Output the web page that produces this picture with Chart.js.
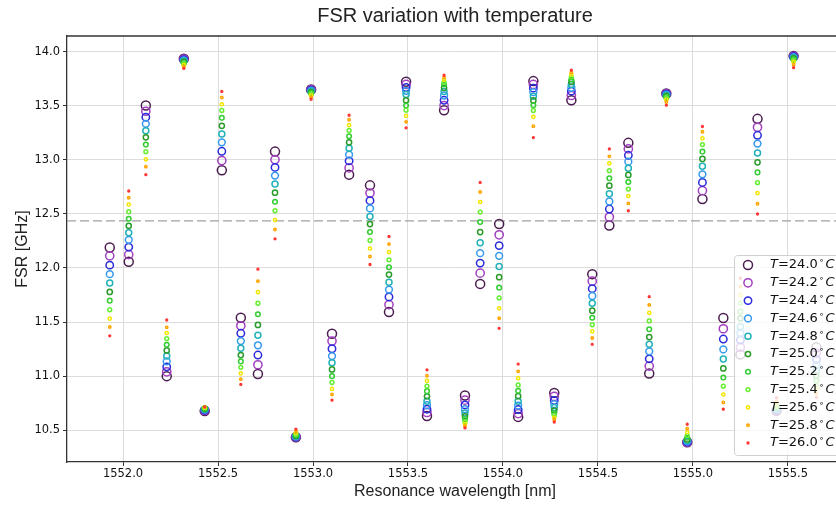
<!DOCTYPE html>
<html>
<head>
<meta charset="utf-8">
<script src="https://cdn.jsdelivr.net/npm/chart.js@4.4.1/dist/chart.umd.min.js"></script>
<style>
    html, body { margin: 0; padding: 0; background: #fff; overflow: hidden; }
    #wrap { width: 880px; height: 507px; }
</style>
</head>
<body>
<div id="wrap"><canvas id="fsrChart" width="880" height="507"></canvas></div>
<script>
// Temperatures (one series each)
const temperatures = ['24.0', '24.2', '24.4', '24.6', '24.8', '25.0', '25.2', '25.4', '25.6', '25.8', '26.0'];

// Resonance wavelengths [nm]
const wavelengths = [1551.93, 1552.03, 1552.12, 1552.23, 1552.32, 1552.43, 1552.52, 1552.62, 1552.71, 1552.80,
    1552.91, 1552.99, 1553.10, 1553.19, 1553.30, 1553.40, 1553.49, 1553.60, 1553.69, 1553.80,
    1553.88, 1553.98, 1554.08, 1554.16, 1554.27, 1554.36, 1554.47, 1554.56, 1554.66, 1554.77,
    1554.86, 1554.97, 1555.05, 1555.16, 1555.25, 1555.34, 1555.44, 1555.53, 1555.65];

// FSR [GHz] per temperature
const fsr240 = [12.190, 12.057, 13.502, 11.000, 13.935, 10.678, 12.903, 11.540, 11.019, 13.076, 10.435, 13.651, 11.392, 12.863, 12.764, 11.593, 13.722, 10.632, 13.459, 10.821, 11.853, 12.406, 10.623, 13.728, 10.845, 13.551, 11.943, 12.393, 13.157, 11.025, 13.614, 10.388, 12.638, 11.537, 11.201, 13.379, 10.680, 13.959, 11.266];
const fsr242 = [12.112, 12.124, 13.449, 11.040, 13.931, 10.682, 12.993, 11.466, 11.105, 13.002, 10.437, 13.648, 11.324, 12.925, 12.693, 11.661, 13.697, 10.664, 13.502, 10.778, 11.952, 12.307, 10.654, 13.697, 10.812, 13.595, 11.878, 12.471, 13.101, 11.093, 13.611, 10.389, 12.715, 11.438, 11.266, 13.301, 10.683, 13.956, 11.210];
const fsr244 = [12.026, 12.193, 13.394, 11.086, 13.926, 10.686, 13.079, 11.396, 11.195, 12.930, 10.439, 13.644, 11.253, 12.990, 12.622, 11.732, 13.669, 10.694, 13.551, 10.734, 12.045, 12.207, 10.691, 13.663, 10.775, 13.635, 11.809, 12.545, 13.042, 11.160, 13.607, 10.392, 12.791, 11.343, 11.334, 13.227, 10.687, 13.953, 11.155];
const fsr246 = [11.943, 12.260, 13.333, 11.136, 13.920, 10.690, 13.162, 11.324, 11.285, 12.854, 10.442, 13.639, 11.185, 13.048, 12.551, 11.800, 13.638, 10.731, 13.595, 10.694, 12.137, 12.112, 10.728, 13.626, 10.741, 13.666, 11.741, 12.615, 12.983, 11.229, 13.602, 10.397, 12.866, 11.247, 11.396, 13.150, 10.692, 13.949, 11.102];
const fsr248 = [11.862, 12.325, 13.270, 11.186, 13.913, 10.694, 13.240, 11.257, 11.377, 12.777, 10.445, 13.633, 11.123, 13.107, 12.476, 11.868, 13.604, 10.768, 13.632, 10.660, 12.233, 12.013, 10.768, 13.589, 10.710, 13.697, 11.674, 12.687, 12.921, 11.294, 13.596, 10.404, 12.940, 11.158, 11.457, 13.064, 10.698, 13.944, 11.053];
const fsr250 = [11.779, 12.390, 13.208, 11.238, 13.905, 10.698, 13.314, 11.195, 11.473, 12.696, 10.449, 13.626, 11.062, 13.162, 12.406, 11.939, 13.551, 10.814, 13.666, 10.629, 12.332, 11.915, 10.815, 13.549, 10.682, 13.722, 11.605, 12.761, 12.860, 11.361, 13.589, 10.415, 13.008, 11.071, 11.535, 12.977, 10.705, 13.938, 11.003];
const fsr252 = [11.698, 12.455, 13.141, 11.290, 13.896, 10.702, 13.388, 11.136, 11.572, 12.613, 10.455, 13.618, 11.000, 13.218, 12.332, 12.007, 13.502, 10.861, 13.697, 10.602, 12.425, 11.818, 10.864, 13.505, 10.657, 13.743, 11.540, 12.829, 12.795, 11.433, 13.580, 10.430, 13.076, 10.988, 11.596, 12.884, 10.714, 13.930, 10.960];
const fsr254 = [11.614, 12.520, 13.075, 11.346, 13.886, 10.706, 13.456, 11.081, 11.674, 12.529, 10.463, 13.608, 10.941, 13.271, 12.254, 12.075, 13.459, 10.907, 13.718, 10.577, 12.517, 11.723, 10.919, 13.456, 10.636, 13.765, 11.475, 12.900, 12.730, 11.510, 13.570, 10.452, 13.141, 10.907, 11.674, 12.789, 10.726, 13.920, 10.917];
const fsr256 = [11.531, 12.587, 13.005, 11.399, 13.875, 10.710, 13.514, 11.025, 11.776, 12.443, 10.475, 13.596, 10.882, 13.320, 12.180, 12.146, 13.407, 10.956, 13.740, 10.558, 12.610, 11.627, 10.981, 13.398, 10.617, 13.787, 11.414, 12.968, 12.665, 11.584, 13.557, 10.481, 13.199, 10.830, 11.751, 12.693, 10.742, 13.905, 10.877];
const fsr258 = [11.454, 12.649, 12.937, 11.451, 13.862, 10.713, 13.577, 10.972, 11.878, 12.356, 10.490, 13.580, 10.830, 13.370, 12.106, 12.221, 13.351, 11.003, 13.762, 10.539, 12.703, 11.535, 11.044, 13.310, 10.599, 13.808, 11.352, 13.032, 12.597, 11.658, 13.535, 10.515, 13.259, 10.756, 11.828, 12.594, 10.765, 13.880, 10.840];
const fsr260 = [11.373, 12.712, 12.863, 11.519, 13.845, 10.716, 13.632, 10.923, 11.989, 12.270, 10.510, 13.560, 10.778, 13.412, 12.032, 12.291, 13.296, 11.058, 13.782, 10.521, 12.791, 11.442, 11.111, 13.206, 10.576, 13.829, 11.294, 13.101, 12.529, 11.735, 13.505, 10.555, 13.308, 10.694, 11.905, 12.499, 10.800, 13.852, 10.803];

const meanFsr = 12.435;

// Tick labels
const xTicks = [1552.0, 1552.5, 1553.0, 1553.5, 1554.0, 1554.5, 1555.0, 1555.5];
const yTicks = [10.5, 11.0, 11.5, 12.0, 12.5, 13.0, 13.5, 14.0];

const fsrSeries = [fsr240, fsr242, fsr244, fsr246, fsr248, fsr250, fsr252, fsr254, fsr256, fsr258, fsr260];
const colors = ['#4b1c4f', '#a23fc0', '#2b2bdc', '#3399ee', '#22b2b8', '#2b9b2b', '#33cc33', '#66ee33', '#f2e600', '#ffa500', '#ff3333'];
const radii = [4.5, 4.1, 3.7, 3.4, 3.0, 2.6, 2.3, 1.9, 1.6, 1.2, 0.9];

const xMin = 1551.705;
const xMax = 1555.79;

const datasets = temperatures.map((t, i) => ({
    label: 'T=' + t + '°C',
    data: wavelengths.map((w, j) => ({ x: w, y: fsrSeries[i][j] })),
    borderColor: colors[i],
    backgroundColor: 'rgba(0,0,0,0)',
    pointRadius: radii[i],
    pointBorderWidth: 1.5,
    order: 20 - i
}));

datasets.push({
    type: 'line',
    label: 'mean',
    data: [{ x: xMin, y: meanFsr }, { x: xMax, y: meanFsr }],
    borderColor: '#a0a0a0',
    borderWidth: 1.2,
    borderDash: [9, 4],
    pointRadius: 0,
    order: 50
});

// Top spine + legend drawn by hand so it can sit inside the plot
const framePlugin = {
    id: 'frame',
    afterDraw(chart) {
        const ctx = chart.ctx;
        const area = chart.chartArea;
        ctx.save();
        ctx.strokeStyle = '#333';
        ctx.lineWidth = 1.3;
        ctx.beginPath();
        ctx.moveTo(area.left, area.top);
        ctx.lineTo(area.right + 40, area.top);
        ctx.stroke();

        // legend
        const bx = area.right - 109, by = area.bottom - 207, bw = 140, bh = 200;
        ctx.fillStyle = 'rgba(255,255,255,0.8)';
        ctx.strokeStyle = '#d0d0d0';
        ctx.lineWidth = 1;
        ctx.beginPath();
        ctx.roundRect(bx + 0.5, by + 0.5, bw, bh, 3);
        ctx.fill();
        ctx.stroke();

        temperatures.forEach((t, i) => {
            const cy = by + 10 + i * 17.8;
            const mx = bx + 14;
            ctx.beginPath();
            ctx.strokeStyle = colors[i];
            ctx.lineWidth = 1.5;
            ctx.arc(mx, cy, radii[i], 0, Math.PI * 2);
            ctx.stroke();

            let tx = bx + 36;
            ctx.fillStyle = '#111';
            ctx.textBaseline = 'middle';
            ctx.font = 'oblique 13px "DejaVu Sans"';
            ctx.fillText('T', tx, cy);
            tx += ctx.measureText('T').width;
            ctx.font = '13px "DejaVu Sans"';
            const mid = '=' + t;
            ctx.fillText(mid, tx, cy);
            tx += ctx.measureText(mid).width + 1;
            ctx.font = '9px "DejaVu Sans"';
            ctx.fillText('∘', tx, cy - 4);
            tx += ctx.measureText('∘').width + 1;
            ctx.font = 'oblique 13px "DejaVu Sans"';
            ctx.fillText('C', tx, cy);
        });
        ctx.restore();
    }
};

const ctx = document.getElementById('fsrChart').getContext('2d');
const fsrChart = new Chart(ctx, {
    type: 'scatter',
    data: { datasets: datasets },
    options: {
        responsive: false,
        animation: false,
        devicePixelRatio: 1,
        events: [],
        layout: {
            padding: { left: 0, right: 37, top: 0, bottom: 0 }
        },
        plugins: {
            legend: { display: false },
            tooltip: { enabled: false },
            title: {
                display: true,
                text: 'FSR variation with temperature',
                fullSize: false,
                color: '#222',
                font: { family: '"Liberation Sans", Arial, sans-serif', size: 20, weight: 'normal' },
                padding: { top: 4, bottom: 8 }
            }
        },
        scales: {
            x: {
                type: 'linear',
                min: xMin,
                max: xMax,
                afterFit: (scale) => { scale.height = 45; },
                afterBuildTicks: (scale) => { scale.ticks = xTicks.map(v => ({ value: v })); },
                ticks: {
                    color: '#111',
                    padding: 1,
                    font: { family: '"DejaVu Sans"', size: 11.5 },
                    callback: (v) => Number(v).toFixed(1)
                },
                grid: { color: '#dcdcdc', lineWidth: 1, tickLength: 4, tickColor: '#333' },
                border: { color: '#333', width: 1.3 },
                title: {
                    display: true,
                    text: 'Resonance wavelength [nm]',
                    color: '#222',
                    font: { family: '"Liberation Sans", Arial, sans-serif', size: 16 },
                    padding: { top: 0, bottom: 6 }
                }
            },
            y: {
                type: 'linear',
                min: 10.206,
                max: 14.145,
                afterFit: (scale) => { scale.width = 67; },
                afterBuildTicks: (scale) => { scale.ticks = yTicks.map(v => ({ value: v })); },
                ticks: {
                    color: '#111',
                    padding: 3,
                    font: { family: '"DejaVu Sans"', size: 11.5 },
                    callback: (v) => Number(v).toFixed(1)
                },
                grid: { color: '#dcdcdc', lineWidth: 1, tickLength: 4, tickColor: '#333' },
                border: { color: '#333', width: 1.3 },
                title: {
                    display: true,
                    text: 'FSR [GHz]',
                    color: '#222',
                    font: { family: '"Liberation Sans", Arial, sans-serif', size: 16 },
                    padding: { top: 13, bottom: 0 }
                }
            }
        }
    },
    plugins: [framePlugin]
});
</script>
</body>
</html>
